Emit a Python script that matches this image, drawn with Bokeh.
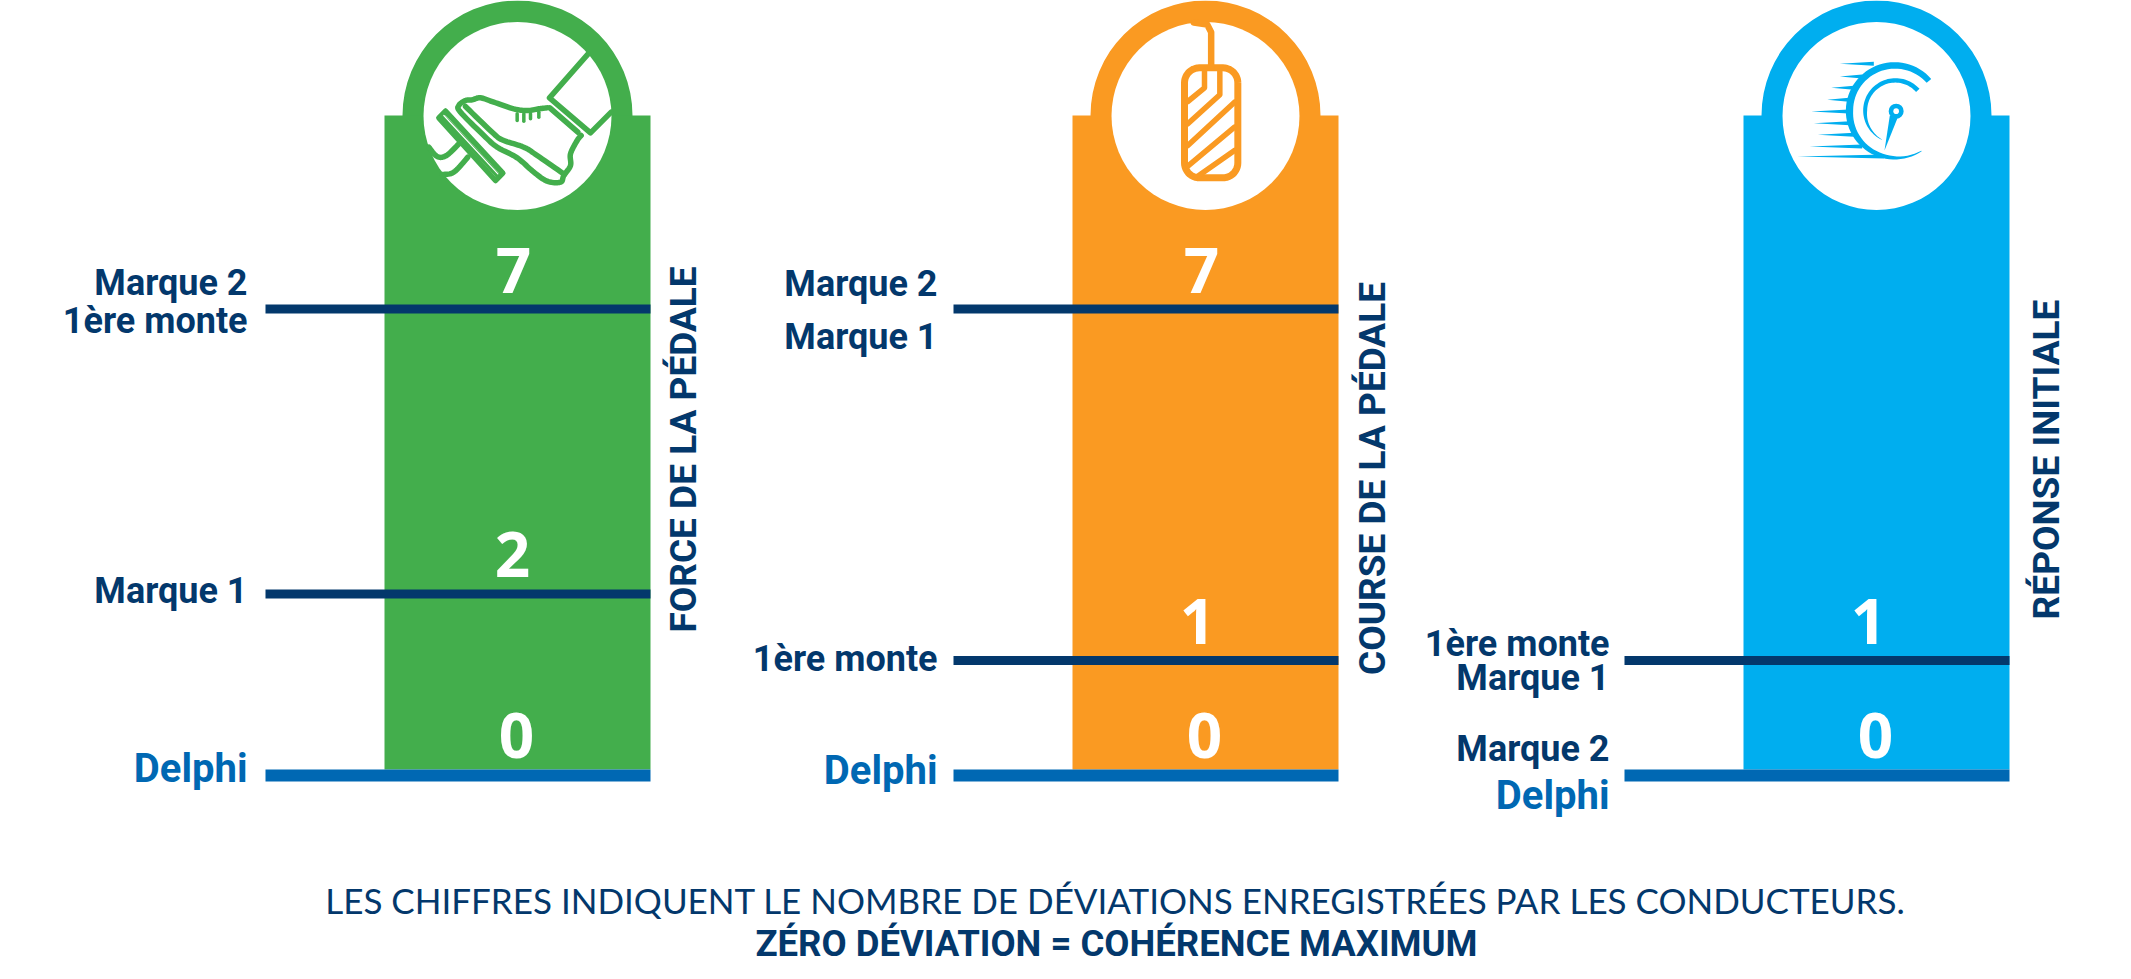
import numpy as np
from bokeh.plotting import figure
from bokeh.embed import file_html
from bokeh.resources import INLINE
from bokeh.core.properties import value

# ---------- data ----------
METRICS = ["FORCE DE LA PÉDALE", "COURSE DE LA PÉDALE", "RÉPONSE INITIALE"]
PANEL_COLORS = ["#43ae4c", "#fa9a22", "#00aeef"]
FORCE_BRANDS = ["Marque 2", "1ère monte", "Marque 1", "Delphi"]
FORCE_DEVIATIONS = [7, 7, 2, 0]
COURSE_BRANDS = ["Marque 2", "Marque 1", "1ère monte", "Delphi"]
COURSE_DEVIATIONS = [7, 7, 1, 0]
REPONSE_BRANDS = ["1ère monte", "Marque 1", "Marque 2", "Delphi"]
REPONSE_DEVIATIONS = [1, 1, 0, 0]
NOTE_1 = "LES CHIFFRES INDIQUENT LE NOMBRE DE DÉVIATIONS ENREGISTRÉES PAR LES CONDUCTEURS."
NOTE_2 = "ZÉRO DÉVIATION = COHÉRENCE MAXIMUM"

# ---------- layout (the scale of the original is not linear) ----------
NAVY, DELPHI = "#03386c", "#0068b3"
LEVEL_Y = {0: 775, 1: 660, 2: 593.5, 7: 308.5}
CENTERS = [517, 1205, 1876]
LABEL_RIGHT = [247, 937, 1609]
LABEL_BASE = [[296, 334, 604, 783], [297, 350, 672, 785], [657, 691, 762, 810]]
NUM_BASE = {7: 293, 2: 577, 1: 644, 0: 758}
NUM_DX = {7: -4, 2: -5, 1: -8, 0: -1}
TITLE_X = [697, 1386, 2060]
TITLE_Y = [449, 478, 459]
LABEL_FONT = "Roboto"
LIFT = 0.37  # share of the font size between the anchor and the drawn baseline

p = figure(width=2131, height=979, x_range=(0, 2131), y_range=(979, 0),
           output_backend="svg", toolbar_location=None, min_border=0,
           outline_line_color=None, background_fill_color="white",
           styles={"position": "absolute", "left": "0", "top": "0"})
p.axis.visible = False
p.grid.visible = False

panels = [(FORCE_BRANDS, FORCE_DEVIATIONS), (COURSE_BRANDS, COURSE_DEVIATIONS),
          (REPONSE_BRANDS, REPONSE_DEVIATIONS)]

for i, (brands, devs) in enumerate(panels):
    c, col = CENTERS[i], PANEL_COLORS[i]
    p.circle(x=[c], y=[115], radius=115, fill_color=col, line_color=None)
    p.quad(left=[c - 133], right=[c + 133], top=[115], bottom=[769], fill_color=col, line_color=None)
    p.circle(x=[c], y=[115.5], radius=94, fill_color="white", line_color=None)


def smooth(points):
    pts = np.array(points, dtype=float)
    pts = np.vstack([pts[0], pts, pts[-1]])
    out = []
    for a, b, c, d in zip(pts[:-3], pts[1:-2], pts[2:-1], pts[3:]):
        for t in np.linspace(0, 1, 10, endpoint=False):
            out.append(0.5 * (2 * b + (c - a) * t + (2 * a - 5 * b + 4 * c - d) * t ** 2 + (3 * b - a - 3 * c + d) * t ** 3))
    out.append(pts[-1])
    return np.array(out)


def z(points, ox):
    """Icon points read at 3x from the picture -> page pixels."""
    pts = np.array(points, dtype=float)
    return list(pts[:, 0] / 3 + ox), list(pts[:, 1] / 3)


def stroke(points, ox, col, w=5.5, curved=False):
    xs, ys = z(smooth(points) if curved else points, ox)
    p.line(xs, ys, line_color=col, line_width=w, line_join="round", line_cap="round")


# ---------- foot icon ----------
G, OX = PANEL_COLORS[0], 360
stroke([(683, 160), (567, 292), (690, 397), (752, 335)], OX, G)
stroke([(568, 322), (652, 395)], OX, G)
stroke([(560, 322), (535, 325), (500, 330), (460, 325), (400, 305), (360, 292), (335, 298), (315, 300),
        (295, 315), (300, 335), (370, 405), (410, 440), (470, 472), (520, 515), (560, 542), (600, 545),
        (610, 525), (630, 495), (630, 460), (650, 420), (662, 405)], OX, G, curved=True)
stroke([(315, 318), (400, 400), (430, 420), (490, 440), (530, 465), (612, 522)], OX, G, curved=True)
stroke([(255, 332), (235, 352), (405, 540), (427, 518), (255, 332)], OX, G)
stroke([(245, 345), (415, 528)], OX, G, 5)
stroke([(250, 345), (412, 520)], OX, "white", 1.2)
stroke([(297, 428), (258, 465), (230, 468), (205, 440)], OX, G, curved=True)
stroke([(322, 470), (280, 515), (245, 522)], OX, G, curved=True)
for a, b in [((470, 340), (470, 360)), ((490, 340), (490, 362)), ((510, 340), (510, 355)), ((535, 335), (535, 350))]:
    stroke([a, b], OX, G, 3.5)

# ---------- pedal icon ----------
O, OX = PANEL_COLORS[1], 1050
th = np.radians(np.linspace(0, 90, 12))
R = 45
corners = []
for cx, cy, a0 in [(517, 247, 0), (447, 247, 90), (447, 487, 180), (517, 487, 270)]:
    ang = th + np.radians(a0)
    corners += list(zip(cx + R * np.cos(ang), cy - R * np.sin(ang)))
corners.append(corners[0])
p.line(*z(corners, OX), line_color=O, line_width=7, line_join="round")
stroke([(482, 200), (482, 95), (470, 72), (430, 66)], OX, O, 6.5)
stroke([(412, 303), (462, 262), (462, 212)], OX, O, 5.5)
stroke([(412, 370), (508, 283), (508, 212)], OX, O, 5.5)
stroke([(412, 435), (552, 305)], OX, O, 5.5)
stroke([(412, 497), (552, 380)], OX, O, 5.5)
stroke([(445, 525), (552, 450)], OX, O, 5.5)

# ---------- speedometer icon ----------
B, OX = PANEL_COLORS[2], 1720


def crescent(cx, cy, r, start, end, thick_at, thick):
    th = np.linspace(start, end, 60)
    t = np.interp(th, thick_at, thick)
    ang = np.radians(th)
    xo = cx + r * np.cos(ang)
    yo = cy - r * np.sin(ang)
    xi = cx + (r - t) * np.cos(ang)
    yi = cy - (r - t) * np.sin(ang)
    pts = list(zip(xo, yo)) + list(zip(xi[::-1], yi[::-1]))
    xs, ys = z(pts, OX)
    p.patch(xs, ys, fill_color=B, line_color=None)


crescent(522, 331, 146, 41, 304, [41, 180, 260, 304], [18, 22, 12, 2])
crescent(525, 330, 97, 42, 245, [42, 180, 245], [14, 12, 1])
for y0, x0, x1 in [(190, 358, 460), (228, 358, 425), (262, 332, 400), (298, 320, 385), (333, 272, 385),
                   (368, 280, 388), (403, 292, 400), (438, 267, 425), (468, 230, 490)]:
    p.patch(*z([(x0, y0), (x1, y0 - 6), (x1, y0 + 6)], OX), fill_color=B, line_color=None)
p.patch(*z([(508, 345), (532, 350), (492, 450)], OX), fill_color=B, line_color=None)
xs, ys = z([(527, 332)], OX)
p.circle(x=xs, y=ys, radius=7.5, fill_color=B, line_color=None)
p.circle(x=xs, y=ys, radius=2.8, fill_color="white", line_color=None)

# ---------- levels, counts, labels ----------
for i, (brands, devs) in enumerate(panels):
    c = CENTERS[i]
    for d in sorted(set(devs)):
        yy = LEVEL_Y[d]
        left = [265, 953, 1624][i]
        lw = 12 if d == 0 else 9
        p.line([left, c + 133], [yy, yy], line_color=DELPHI if d == 0 else NAVY, line_width=lw)
        p.text(x=[c + NUM_DX[d]], y=[NUM_BASE[d] - LIFT * 62], text=[str(d)], text_color="white", text_font=value("Open Sans"),
               text_font_style="bold", text_font_size="62px", text_align="center", text_baseline="alphabetic")
    for b, yy in zip(brands, LABEL_BASE[i]):
        fs = 40 if b == "Delphi" else 36
        p.text(x=[LABEL_RIGHT[i]], y=[yy - LIFT * fs], text=[b], text_color=DELPHI if b == "Delphi" else NAVY,
               text_font=value(LABEL_FONT), text_font_style="bold", text_font_size=f"{fs}px",
               text_align="right", text_baseline="alphabetic")
    p.text(x=[TITLE_X[i] - LIFT * 37], y=[TITLE_Y[i]], text=[METRICS[i]], angle=np.pi / 2, text_color=NAVY,
           text_font=value(LABEL_FONT), text_font_style="bold", text_font_size="37px",
           text_align="center", text_baseline="alphabetic")

p.text(x=[1115], y=[912 - LIFT * 35], text=[NOTE_1], text_color=NAVY, text_font=value("Lato"),
       text_font_size="35px", text_align="center", text_baseline="alphabetic")
p.text(x=[1116], y=[957 - LIFT * 36.5], text=[NOTE_2], text_color=NAVY, text_font=value(LABEL_FONT),
       text_font_style="bold", text_font_size="36.5px", text_align="center", text_baseline="alphabetic")

open("out.html", "w").write(file_html(p, INLINE))
